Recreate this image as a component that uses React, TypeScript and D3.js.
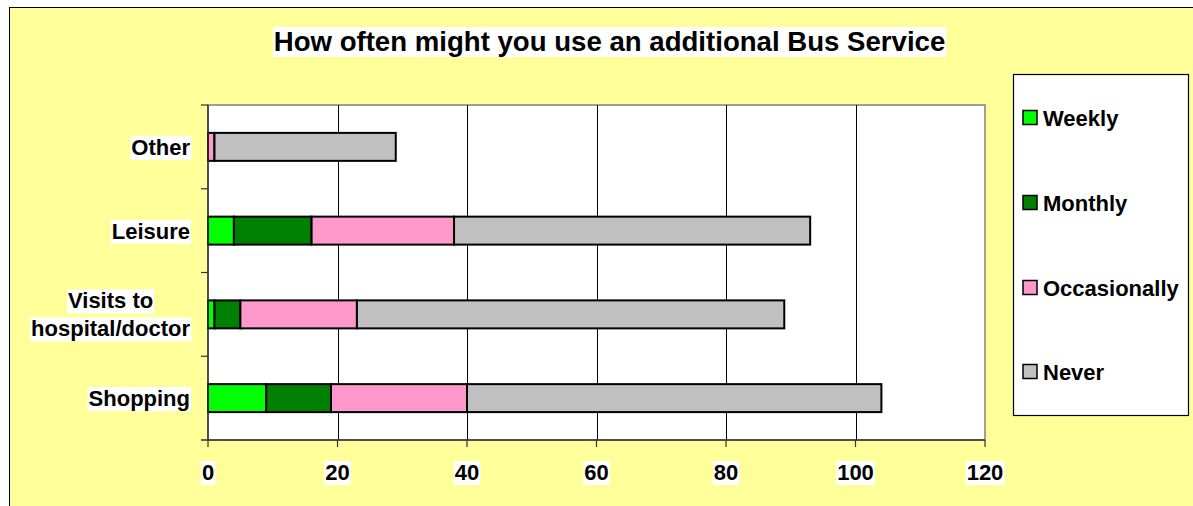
import React, { useEffect, useRef } from "react";
import * as d3 from "d3";

const categories = ["Other", "Leisure", "Visits to hospital/doctor", "Shopping"];
const categoryLines = [["Other"], ["Leisure"], ["Visits to", "hospital/doctor"], ["Shopping"]];
const seriesNames = ["Weekly", "Monthly", "Occasionally", "Never"];
const weekly = [0, 4, 1, 9];
const monthly = [0, 12, 4, 10];
const occasionally = [1, 22, 18, 21];
const never = [28, 55, 66, 64];
const seriesColors = ["#00FF00", "#008000", "#FF99CC", "#C0C0C0"];
const xTicks = [0, 20, 40, 60, 80, 100, 120];
const title = "How often might you use an additional Bus Service";

const W = 1193;
const H = 506;
const FONT = "'Liberation Sans', Arial, Helvetica, sans-serif";

export default function App() {
  const ref = useRef<SVGSVGElement | null>(null);

  useEffect(() => {
    const svg = d3.select(ref.current);
    svg.selectAll("*").remove();

    const plot = { x0: 208, x1: 985, y0: 105, y1: 440 };
    const x = d3.scaleLinear().domain([0, 120]).range([plot.x0, plot.x1]);
    const y = d3.scaleBand<string>().domain(categories).range([plot.y0, plot.y1]).padding(0);
    const barRatio = 0.334;
    const barH = y.bandwidth() * barRatio;

    // background frame
    svg.append("rect").attr("x", 9.5).attr("y", 7.5).attr("width", W + 20).attr("height", H + 20)
      .attr("fill", "#FFFF99").attr("stroke", "#000").attr("stroke-width", 1);

    // plot area
    svg.append("rect").attr("x", plot.x0).attr("y", plot.y0).attr("width", plot.x1 - plot.x0)
      .attr("height", plot.y1 - plot.y0).attr("fill", "#fff").attr("stroke", "#808080").attr("stroke-width", 1.5);

    // gridlines
    svg.append("g").selectAll("line").data(xTicks.filter((t) => t > 0 && t < 120)).join("line")
      .attr("x1", (d) => Math.round(x(d)) + 0.5).attr("x2", (d) => Math.round(x(d)) + 0.5)
      .attr("y1", plot.y0).attr("y2", plot.y1).attr("stroke", "#000").attr("stroke-width", 1);

    // stacked bars
    const table = categories.map((c, i) => ({
      cat: c,
      Weekly: weekly[i],
      Monthly: monthly[i],
      Occasionally: occasionally[i],
      Never: never[i],
    }));
    const stack = d3.stack<any>().keys(seriesNames)(table);
    stack.forEach((s, si) => {
      svg.append("g").selectAll("rect").data(s.filter((d) => d[1] - d[0] > 0)).join("rect")
        .attr("x", (d) => x(d[0]))
        .attr("width", (d) => x(d[1]) - x(d[0]))
        .attr("y", (d) => (y(d.data.cat) as number) + (y.bandwidth() - barH) / 2)
        .attr("height", barH)
        .attr("fill", seriesColors[si])
        .attr("stroke", "#000")
        .attr("stroke-width", 2);
    });

    // axes
    svg.append("line").attr("x1", plot.x0).attr("x2", plot.x0).attr("y1", plot.y0).attr("y2", plot.y1)
      .attr("stroke", "#333").attr("stroke-width", 1.5);
    svg.append("line").attr("x1", plot.x0 - 7).attr("x2", plot.x1).attr("y1", plot.y1).attr("y2", plot.y1)
      .attr("stroke", "#333").attr("stroke-width", 1.5);
    const yBounds = categories.map((c) => y(c) as number);
    svg.append("g").selectAll("line").data(yBounds).join("line")
      .attr("x1", plot.x0 - 7).attr("x2", plot.x0).attr("y1", (d) => d).attr("y2", (d) => d)
      .attr("stroke", "#333").attr("stroke-width", 1.2);
    svg.append("g").selectAll("line").data(xTicks).join("line")
      .attr("x1", (d) => x(d)).attr("x2", (d) => x(d)).attr("y1", plot.y1).attr("y2", plot.y1 + 7)
      .attr("stroke", "#333").attr("stroke-width", 1.2);

    const texts: any[] = [];
    // x tick labels
    xTicks.forEach((t) => {
      texts.push(svg.append("text").attr("x", x(t)).attr("y", 480).attr("text-anchor", "middle")
        .attr("font-size", 22).attr("font-weight", "bold").attr("font-family", FONT).text(String(t)));
    });

    // category labels
    categoryLines.forEach((lines, i) => {
      const cy = (y(categories[i]) as number) + y.bandwidth() / 2;
      if (lines.length === 1) {
        texts.push(svg.append("text").attr("x", 190).attr("y", cy + 8).attr("text-anchor", "end")
          .attr("font-size", 22).attr("font-weight", "bold").attr("font-family", FONT).text(lines[0]));
      } else {
        texts.push(svg.append("text").attr("x", 68).attr("y", cy - 14 + 8).attr("text-anchor", "start")
          .attr("font-size", 22).attr("font-weight", "bold").attr("font-family", FONT).text(lines[0]));
        texts.push(svg.append("text").attr("x", 190).attr("y", cy + 14 + 8).attr("text-anchor", "end")
          .attr("font-size", 22).attr("font-weight", "bold").attr("font-family", FONT).text(lines[1]));
      }
    });

    // title
    texts.push(svg.append("text").attr("x", 609.5).attr("y", 51).attr("text-anchor", "middle")
      .attr("font-size", 27.6).attr("font-weight", "bold").attr("font-family", FONT).text(title));

    // white backgrounds behind texts
    texts.forEach((t) => {
      const node = t.node() as SVGTextElement;
      const b = node.getBBox();
      svg.insert("rect", () => node).attr("x", b.x - 1).attr("y", b.y + 1).attr("width", b.width + 2)
        .attr("height", b.height - 1).attr("fill", "#fff");
    });

    // legend
    const lg = svg.append("g");
    lg.append("rect").attr("x", 1013.5).attr("y", 74.5).attr("width", 175).attr("height", 341)
      .attr("fill", "#fff").attr("stroke", "#000").attr("stroke-width", 1.2);
    const legendY = [118, 203, 288, 372];
    seriesNames.forEach((n, i) => {
      lg.append("rect").attr("x", 1023).attr("y", legendY[i] - 7.5).attr("width", 14).attr("height", 14)
        .attr("fill", seriesColors[i]).attr("stroke", "#000").attr("stroke-width", 1.5);
      lg.append("text").attr("x", 1043).attr("y", legendY[i] + 8).attr("font-size", 22)
        .attr("font-weight", "bold").attr("font-family", FONT).text(n);
    });
  }, []);

  return (
    <div style={{ position: "absolute", left: 0, top: 0 }}>
      <svg ref={ref} width={W} height={H} style={{ display: "block" }} />
    </div>
  );
}
